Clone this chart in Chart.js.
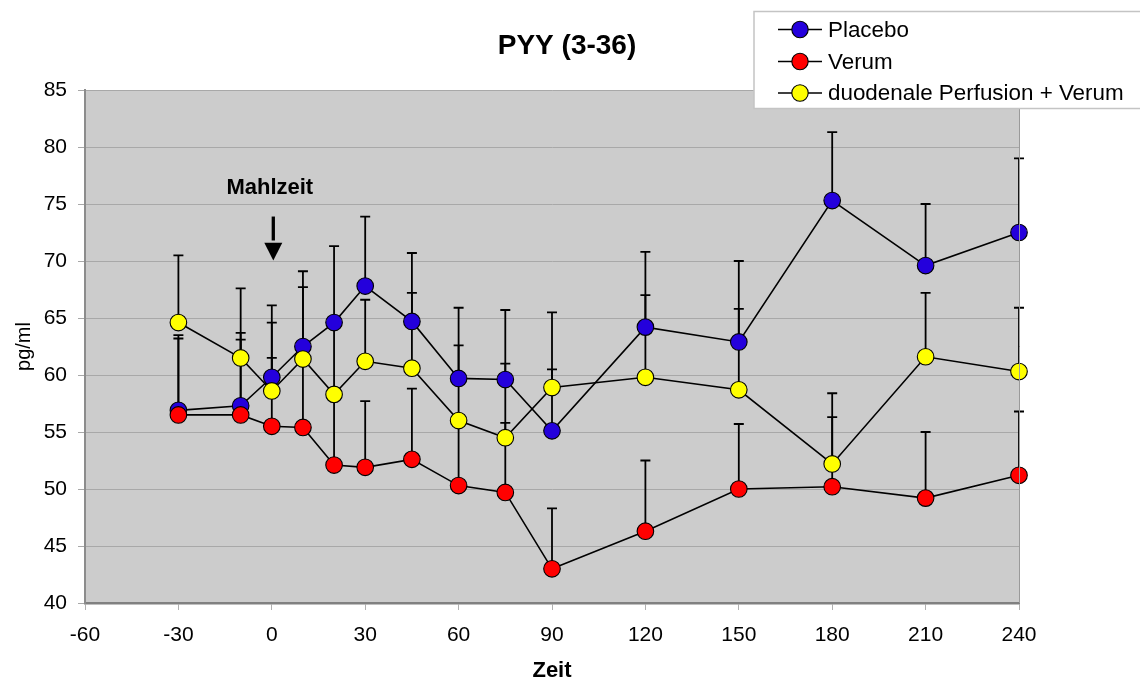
<!DOCTYPE html>
<html>
<head>
<meta charset="utf-8">
<script src="https://cdn.jsdelivr.net/npm/chart.js@4/dist/chart.umd.min.js"></script>
<style>
    html, body { margin: 0; padding: 0; background: #fff; }
    #wrap { width: 1140px; height: 684px; }
</style>
</head>
<body>
<div id="wrap"><canvas id="pyyChart" width="1140" height="684"></canvas></div>
<script>
// Zeit (min) and PYY (3-36) means, pg/ml
const times = [-30, -10, 0, 10, 20, 30, 45, 60, 75, 90, 120, 150, 180, 210, 240];

const placebo    = [56.9, 57.3, 59.8, 62.5, 64.6, 67.8, 64.7, 59.7, 59.6, 55.1, 64.2, 62.9, 75.3, 69.6, 72.5];
const placeboErr = [6.6, 6.4, 6.3, 6.6, 6.7, 6.1, 6.0, 6.2, 6.1, 5.4, 6.6, 7.1, 6.0, 5.4, 6.5];

const verum    = [56.5, 56.5, 55.5, 55.4, 52.1, 51.9, 52.6, 50.3, 49.7, 43.0, 46.3, 50.0, 50.2, 49.2, 51.2];
const verumErr = [6.7, 6.6, 6.0, 6.0, 6.2, 5.8, 6.2, 5.8, 6.1, 5.3, 6.2, 5.7, 6.1, 5.8, 5.6];

const perfusion    = [64.6, 61.5, 58.6, 61.4, 58.3, 61.2, 60.6, 56.0, 54.5, 58.9, 59.8, 58.7, 52.2, 61.6, 60.3];
const perfusionErr = [5.9, 6.1, 6.0, 6.3, 6.3, 5.4, 6.6, 6.6, 6.5, 6.6, 7.2, 7.1, 6.2, 5.6, 5.6];

const seriesLabels = ['Placebo', 'Verum', 'duodenale Perfusion + Verum'];
const seriesColors = ['#2400dc', '#ff0000', '#ffff00'];

const FONT = "'Liberation Sans', Arial, sans-serif";
Chart.defaults.font.family = FONT;
Chart.defaults.color = '#000';

function toPoints(vals) {
    return times.map((t, i) => ({ x: t, y: vals[i] }));
}

function makeSet(idx, vals, errs, order) {
    return {
        label: seriesLabels[idx],
        data: toPoints(vals),
        errors: errs,
        order: order,
        borderColor: '#000',
        borderWidth: 1.6,
        backgroundColor: seriesColors[idx],
        pointBackgroundColor: seriesColors[idx],
        pointBorderColor: '#000',
        pointBorderWidth: 1.1,
        pointRadius: 8.3,
        tension: 0,
        clip: false,
    };
}

// plot area fill + right frame line
const plotBg = {
    id: 'plotBg',
    beforeDraw(chart) {
        const { ctx, chartArea: a } = chart;
        ctx.save();
        ctx.fillStyle = '#cccccc';
        ctx.fillRect(a.left, a.top, a.right - a.left, a.bottom - a.top);
        ctx.restore();
    },
    afterDraw(chart) {
        const { ctx, chartArea: a } = chart;
        ctx.save();
        ctx.strokeStyle = '#9a9a9a';
        ctx.lineWidth = 1;
        ctx.beginPath();
        ctx.moveTo(a.right + 0.5, a.top);
        ctx.lineTo(a.right + 0.5, a.bottom);
        ctx.stroke();
        ctx.restore();
    }
};

// upper error bars, drawn behind all lines and markers
const errorBars = {
    id: 'errorBars',
    beforeDatasetsDraw(chart) {
        const { ctx } = chart;
        const yScale = chart.scales.y;
        ctx.save();
        ctx.strokeStyle = '#000';
        ctx.lineWidth = 1.8;
        chart.data.datasets.forEach((ds, di) => {
            const meta = chart.getDatasetMeta(di);
            meta.data.forEach((pt, i) => {
                const top = yScale.getPixelForValue(ds.data[i].y + ds.errors[i]);
                ctx.beginPath();
                ctx.moveTo(pt.x, pt.y);
                ctx.lineTo(pt.x, top);
                ctx.moveTo(pt.x - 5, top);
                ctx.lineTo(pt.x + 5, top);
                ctx.stroke();
            });
        });
        ctx.restore();
    }
};

// title, meal marker and legend box
const decorations = {
    id: 'decorations',
    afterDraw(chart) {
        const { ctx } = chart;
        const xs = chart.scales.x, ys = chart.scales.y;
        ctx.save();

        ctx.fillStyle = '#000';
        ctx.textAlign = 'center';
        ctx.textBaseline = 'middle';
        ctx.font = 'bold 28px ' + FONT;
        ctx.fillText('PYY (3-36)', 567, 46);

        // Mahlzeit arrow at t = 0
        const mx = xs.getPixelForValue(0);
        ctx.font = 'bold 22px ' + FONT;
        ctx.fillText('Mahlzeit', mx - 2, ys.getPixelForValue(76.4));
        const ax = mx + 1.5;
        ctx.lineWidth = 3.3;
        ctx.beginPath();
        ctx.moveTo(ax, ys.getPixelForValue(73.9));
        ctx.lineTo(ax, ys.getPixelForValue(71.8));
        ctx.stroke();
        ctx.beginPath();
        ctx.moveTo(ax - 9, ys.getPixelForValue(71.6));
        ctx.lineTo(ax + 9, ys.getPixelForValue(71.6));
        ctx.lineTo(ax, ys.getPixelForValue(70.05));
        ctx.closePath();
        ctx.fill();

        // legend
        ctx.fillStyle = '#fff';
        ctx.fillRect(754, 11.5, 400, 97);
        ctx.strokeStyle = '#c4c4c4';
        ctx.lineWidth = 1.5;
        ctx.strokeRect(754, 11.5, 400, 97);
        ctx.textAlign = 'left';
        ctx.font = '22.4px ' + FONT;
        const rows = [29.5, 61.5, 93];
        seriesLabels.forEach((lab, i) => {
            const y = rows[i];
            ctx.strokeStyle = '#000';
            ctx.lineWidth = 1.6;
            ctx.beginPath();
            ctx.moveTo(778, y);
            ctx.lineTo(822, y);
            ctx.stroke();
            ctx.beginPath();
            ctx.arc(800, y, 8.2, 0, Math.PI * 2);
            ctx.fillStyle = seriesColors[i];
            ctx.fill();
            ctx.lineWidth = 1.1;
            ctx.stroke();
            ctx.fillStyle = '#000';
            ctx.fillText(lab, 828, y + 1);
        });
        ctx.restore();
    }
};

new Chart(document.getElementById('pyyChart').getContext('2d'), {
    type: 'line',
    data: {
        datasets: [
            makeSet(0, placebo, placeboErr, 3),
            makeSet(1, verum, verumErr, 2),
            makeSet(2, perfusion, perfusionErr, 1),
        ]
    },
    options: {
        responsive: false,
        animation: false,
        devicePixelRatio: 1,
        layout: { padding: { top: 90, right: 121, left: 0, bottom: 0 } },
        plugins: {
            legend: { display: false },
            title: { display: false },
            tooltip: { enabled: false }
        },
        scales: {
            x: {
                type: 'linear',
                min: -60,
                max: 240,
                afterFit(scale) { scale.height = 81; },
                ticks: { stepSize: 30, padding: 13, font: { size: 21 }, color: '#000' },
                grid: { drawOnChartArea: false, drawTicks: true, tickLength: 7, color: '#b0b0b0' },
                border: { display: true, color: '#808080', width: 2.5 },
                title: { display: true, text: 'Zeit', font: { size: 22, weight: 'bold' }, padding: { top: 0, bottom: 0 }, color: '#000' }
            },
            y: {
                min: 40,
                max: 85,
                afterFit(scale) { scale.width = 85; },
                ticks: { stepSize: 5, padding: 11, font: { size: 21 }, color: '#000' },
                grid: { color: '#a8a8a8', lineWidth: 1, tickLength: 7 },
                border: { display: true, color: '#8c8c8c', width: 2 },
                title: { display: true, text: 'pg/ml', font: { size: 20 }, padding: { top: 12, bottom: 0 }, color: '#000' }
            }
        }
    },
    plugins: [plotBg, errorBars, decorations]
});
</script>
</body>
</html>
